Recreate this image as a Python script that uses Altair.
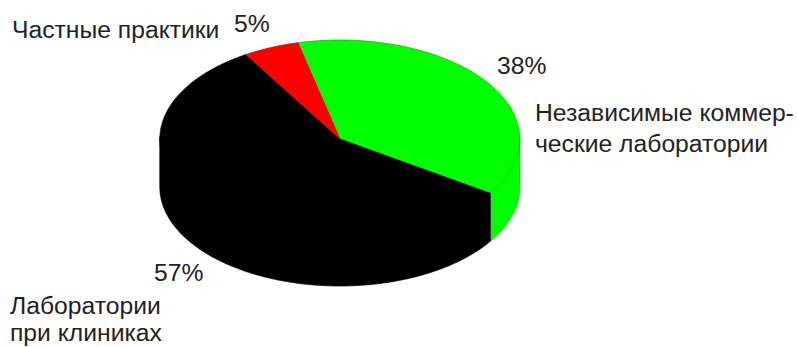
import numpy as np
import altair as alt

# Shares of laboratories by type, in percent, clockwise from the first slice.
slice_names = ["Независимые коммерческие лаборатории", "Лаборатории при клиниках", "Частные практики"]
slice_shares = [38, 57, 5]
slice_colors = ["#00ff00", "#000000", "#ff0000"]
edge_colors = ["#1f9e1f", "#000000", "#c00000"]

START_DEG = -13.5   # bearing of the first slice edge, clockwise from north
TILT = 99 / 180     # vertical squash of the disc
DEPTH = 48 / 180    # height of the drum, in disc radii
OVERLAP = 0.012     # wall runs slightly under the lid so no seam shows


def rim(a_from, a_to, drop=0.0):
    """Points along the disc rim between two bearings, as planar coordinates."""
    n = max(2, int(abs(a_to - a_from) * 2))
    a = np.radians(np.linspace(a_from, a_to, n))
    return [[float(np.sin(t)), float(np.cos(t) * TILT - drop)] for t in a]


def feature(name, ring):
    ring = ring + [ring[0]]
    return {"type": "Feature",
            "properties": {"name": name},
            "geometry": {"type": "Polygon", "coordinates": [ring]}}


edges = START_DEG + np.cumsum([0] + slice_shares) * 3.6

drum, tops = [], []
for name, a0, a1 in zip(slice_names, edges[:-1], edges[1:]):
    # Only the front half of the drum wall (bearings 90-270) is visible.
    lo, hi = max(a0, 90.0), min(a1, 270.0)
    if lo < hi:
        drum.append(feature(name, rim(lo, hi, -OVERLAP) + rim(hi, lo, DEPTH)))
    tops.append(feature(name, [[0.0, 0.0]] + rim(a0, a1)))

pie = alt.Chart(alt.Data(values=drum + tops)).mark_geoshape(strokeWidth=0.7).encode(
    fill=alt.Fill("properties.name:N",
                  scale=alt.Scale(domain=slice_names, range=slice_colors), legend=None),
    stroke=alt.Stroke("properties.name:N",
                      scale=alt.Scale(domain=slice_names, range=edge_colors), legend=None),
).project(type="identity", reflectY=True, scale=180, translate=[339.8, 139])


def label(text, x, y):
    return alt.Chart(alt.Data(values=[{"t": text}])).mark_text(
        align="left", baseline="alphabetic", font="Liberation Sans",
        fontSize=24.7, color="#222222",
    ).encode(x=alt.value(x), y=alt.value(y), text="t:N")


labels = [
    label("Частные практики", 12, 38),
    label(f"{slice_shares[2]}%", 234, 32),
    label(f"{slice_shares[0]}%", 497, 74),
    label("Независимые коммер-", 535, 121),
    label("ческие лаборатории", 535, 152),
    label(f"{slice_shares[1]}%", 154, 281),
    label("Лаборатории", 10, 314),
    label("при клиниках", 10, 341),
]

chart = alt.layer(pie, *labels).properties(
    width=798, height=347, padding=0,
    autosize=alt.AutoSizeParams(type="none"),
).configure_view(stroke=None)

chart.save("out.html", embed_options={"renderer": "svg", "actions": False})
